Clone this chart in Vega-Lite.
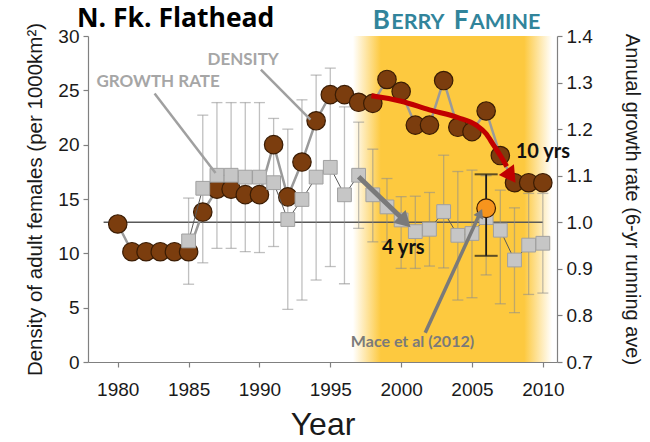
{
  "$schema": "https://vega.github.io/schema/vega-lite/v6.json",
  "width": 469,
  "height": 326,
  "autosize": {"type": "none"},
  "padding": {"left": 88, "top": 36, "right": 93, "bottom": 80},
  "background": "white",
  "config": {
    "view": {"stroke": null},
    "axis": {"grid": false, "labelFont": "Liberation Sans", "titleFont": "Liberation Sans", "labelFontSize": 19, "titleFontSize": 20, "titleFontWeight": "normal", "labelColor": "#1a1a1a", "titleColor": "#1a1a1a", "domainColor": "#808080", "tickColor": "#808080", "tickSize": 5, "domainWidth": 1.2, "tickWidth": 1.2}
  },
  "title": {"text": "N. Fk. Flathead", "anchor": "start", "frame": "group", "dx": -11, "dy": 30, "offset": 6, "font": "Open Sans", "fontSize": 26.5, "fontWeight": "bold", "color": "#000000"},
  "datasets": {
    "density": [
      {"year": 1980, "d": 12.7}, {"year": 1981, "d": 10.15}, {"year": 1982, "d": 10.15}, {"year": 1983, "d": 10.15}, {"year": 1984, "d": 10.15}, {"year": 1985, "d": 10.15},
      {"year": 1986, "d": 13.8}, {"year": 1987, "d": 15.9}, {"year": 1988, "d": 15.9}, {"year": 1989, "d": 15.4}, {"year": 1990, "d": 15.4},
      {"year": 1991, "d": 20.0}, {"year": 1992, "d": 15.2}, {"year": 1993, "d": 18.4}, {"year": 1994, "d": 22.2}, {"year": 1995, "d": 24.6},
      {"year": 1996, "d": 24.6}, {"year": 1997, "d": 23.9}, {"year": 1998, "d": 23.8}, {"year": 1999, "d": 26.0}, {"year": 2000, "d": 24.9},
      {"year": 2001, "d": 21.8}, {"year": 2002, "d": 21.8}, {"year": 2003, "d": 25.9}, {"year": 2004, "d": 21.6}, {"year": 2005, "d": 21.2},
      {"year": 2006, "d": 23.1}, {"year": 2007, "d": 19.0}, {"year": 2008, "d": 16.5}, {"year": 2009, "d": 16.5}, {"year": 2010, "d": 16.5}
    ],
    "growth": [
      {"year": 1985, "g": 0.960, "lo": 0.867, "hi": 1.052},
      {"year": 1986, "g": 1.073, "lo": 0.913, "hi": 1.230},
      {"year": 1987, "g": 1.101, "lo": 0.944, "hi": 1.257},
      {"year": 1988, "g": 1.101, "lo": 0.944, "hi": 1.257},
      {"year": 1989, "g": 1.097, "lo": 0.937, "hi": 1.257},
      {"year": 1990, "g": 1.097, "lo": 0.935, "hi": 1.257},
      {"year": 1991, "g": 1.085, "lo": 0.948, "hi": 1.223},
      {"year": 1992, "g": 1.006, "lo": 0.813, "hi": 1.200},
      {"year": 1993, "g": 1.049, "lo": 0.833, "hi": 1.263},
      {"year": 1994, "g": 1.097, "lo": 0.876, "hi": 1.316},
      {"year": 1995, "g": 1.118, "lo": 0.905, "hi": 1.331},
      {"year": 1996, "g": 1.059, "lo": 0.868, "hi": 1.248},
      {"year": 1997, "g": 1.101, "lo": 0.987, "hi": 1.215},
      {"year": 1998, "g": 1.059, "lo": 0.958, "hi": 1.157},
      {"year": 1999, "g": 1.033, "lo": 0.958, "hi": 1.094},
      {"year": 2000, "g": 1.005, "lo": 0.901, "hi": 1.055},
      {"year": 2001, "g": 0.980, "lo": 0.901, "hi": 1.056},
      {"year": 2002, "g": 0.985, "lo": 0.906, "hi": 1.064},
      {"year": 2003, "g": 1.023, "lo": 0.902, "hi": 1.144},
      {"year": 2004, "g": 0.972, "lo": 0.833, "hi": 1.109},
      {"year": 2005, "g": 0.976, "lo": 0.838, "hi": 1.112},
      {"year": 2006, "g": 1.010, "lo": 0.887, "hi": 1.100},
      {"year": 2007, "g": 0.983, "lo": 0.825, "hi": 1.069},
      {"year": 2008, "g": 0.919, "lo": 0.806, "hi": 1.031},
      {"year": 2009, "g": 0.951, "lo": 0.845, "hi": 1.062},
      {"year": 2010, "g": 0.955, "lo": 0.848, "hi": 1.062}
    ],
    "mace": [{"year": 2006, "g": 1.03, "lo": 0.928, "hi": 1.103}],
    "redpath": [
      {"year": 1997.9, "d": 24.5}, {"year": 2000.0, "d": 24.0}, {"year": 2002.0, "d": 23.2}, {"year": 2004.0, "d": 22.5},
      {"year": 2005.3, "d": 21.8}, {"year": 2006.0, "d": 21.0}, {"year": 2006.5, "d": 20.0}, {"year": 2007.0, "d": 19.0}, {"year": 2007.45, "d": 18.0}
    ],
    "pointers": [
      {"year": 1982.6, "d": 24.7, "seg": "growth"}, {"year": 1986.9, "d": 17.4, "seg": "growth"},
      {"year": 1990.1, "d": 26.9, "seg": "density"}, {"year": 1993.6, "d": 22.3, "seg": "density"}
    ]
  },
  "encoding": {
    "x": {"field": "year", "type": "quantitative", "scale": {"domain": [1977.9, 2011], "nice": false, "zero": false},
      "axis": {"values": [1980, 1985, 1990, 1995, 2000, 2005, 2010], "format": "d", "title": "Year", "titleFontSize": 32, "titlePadding": 10, "labelPadding": 13}}
  },
  "layer": [
    {
      "data": {"values": [{"year": 1996.6, "year2": 2010.65}]},
      "mark": {"type": "rect", "color": {"gradient": "linear", "x1": 0, "x2": 1, "y1": 0, "y2": 0, "stops": [{"offset": 0, "color": "#ffffff"}, {"offset": 0.14, "color": "#fdc93f"}, {"offset": 0.86, "color": "#fdc93f"}, {"offset": 1, "color": "#ffffff"}]}},
      "encoding": {"x2": {"field": "year2"}}
    },
    {
      "data": {"values": [{"year": 1979, "year2": 2010, "g": 1}]},
      "mark": {"type": "rule", "color": "#595959", "strokeWidth": 1.5},
      "encoding": {
        "x2": {"field": "year2"},
        "y": {"field": "g", "type": "quantitative", "scale": {"domain": [0.7, 1.4], "nice": false, "zero": false},
          "axis": {"orient": "right", "values": [0.7, 0.8, 0.9, 1.0, 1.1, 1.2, 1.3, 1.4], "format": ".1f", "title": "Annual growth rate (6-yr running ave)", "titlePadding": 29, "labelPadding": 4}}
      }
    },
    {
      "data": {"name": "growth"},
      "mark": {"type": "rule", "color": "#8c8c8c", "opacity": 0.55, "strokeWidth": 1.3},
      "encoding": {"y": {"field": "lo", "type": "quantitative", "scale": {"domain": [0.7, 1.4], "nice": false, "zero": false}, "axis": null}, "y2": {"field": "hi"}}
    },
    {
      "data": {"name": "growth"},
      "mark": {"type": "tick", "orient": "horizontal", "size": 11, "thickness": 1.3, "color": "#8c8c8c", "opacity": 0.55},
      "encoding": {"y": {"field": "lo", "type": "quantitative", "scale": {"domain": [0.7, 1.4], "nice": false, "zero": false}, "axis": null}}
    },
    {
      "data": {"name": "growth"},
      "mark": {"type": "tick", "orient": "horizontal", "size": 11, "thickness": 1.3, "color": "#8c8c8c", "opacity": 0.55},
      "encoding": {"y": {"field": "hi", "type": "quantitative", "scale": {"domain": [0.7, 1.4], "nice": false, "zero": false}, "axis": null}}
    },
    {
      "data": {"name": "density"},
      "mark": {"type": "line", "color": "#9a9a9a", "strokeWidth": 2.5},
      "encoding": {"y": {"field": "d", "type": "quantitative", "scale": {"domain": [0, 30], "nice": false, "zero": false},
        "axis": {"orient": "left", "values": [0, 5, 10, 15, 20, 25, 30], "title": "Density of adult females (per 1000km²)", "titleFontSize": 20.5, "titlePadding": 12, "labelPadding": 4}}}
    },
    {
      "data": {"name": "density"},
      "mark": {"type": "point", "filled": true, "size": 340, "color": "#7b3d0e", "stroke": "#3a1c04", "strokeWidth": 1.2, "opacity": 1},
      "encoding": {"y": {"field": "d", "type": "quantitative", "scale": {"domain": [0, 30], "nice": false, "zero": false}, "axis": null}}
    },
    {
      "data": {"name": "growth"},
      "mark": {"type": "line", "color": "#595959", "strokeWidth": 1},
      "encoding": {"y": {"field": "g", "type": "quantitative", "scale": {"domain": [0.7, 1.4], "nice": false, "zero": false}, "axis": null}}
    },
    {
      "data": {"name": "growth"},
      "mark": {"type": "point", "shape": "square", "filled": true, "size": 190, "color": "#c6c6c6", "stroke": "#a0a0a0", "strokeWidth": 1, "opacity": 1},
      "encoding": {"y": {"field": "g", "type": "quantitative", "scale": {"domain": [0.7, 1.4], "nice": false, "zero": false}, "axis": null}}
    },
    {
      "data": {"name": "mace"},
      "mark": {"type": "rule", "color": "#1a1a1a", "strokeWidth": 1.8},
      "encoding": {"y": {"field": "lo", "type": "quantitative", "scale": {"domain": [0.7, 1.4], "nice": false, "zero": false}, "axis": null}, "y2": {"field": "hi"}}
    },
    {
      "data": {"name": "mace"},
      "mark": {"type": "tick", "orient": "horizontal", "size": 23, "thickness": 2, "color": "#1a1a1a"},
      "encoding": {"y": {"field": "lo", "type": "quantitative", "scale": {"domain": [0.7, 1.4], "nice": false, "zero": false}, "axis": null}}
    },
    {
      "data": {"name": "mace"},
      "mark": {"type": "tick", "orient": "horizontal", "size": 23, "thickness": 2, "color": "#1a1a1a"},
      "encoding": {"y": {"field": "hi", "type": "quantitative", "scale": {"domain": [0.7, 1.4], "nice": false, "zero": false}, "axis": null}}
    },
    {
      "data": {"name": "mace"},
      "mark": {"type": "point", "filled": true, "size": 350, "color": "#f7941d", "stroke": "#3a1c04", "strokeWidth": 1.2, "opacity": 1},
      "encoding": {"y": {"field": "g", "type": "quantitative", "scale": {"domain": [0.7, 1.4], "nice": false, "zero": false}, "axis": null}}
    },
    {
      "data": {"name": "pointers"},
      "mark": {"type": "line", "color": "#a0a0a0", "strokeWidth": 2.5},
      "encoding": {"y": {"field": "d", "type": "quantitative", "scale": {"domain": [0, 30], "nice": false, "zero": false}, "axis": null}, "detail": {"field": "seg"}}
    },
    {
      "data": {"values": [{"year": 1997.0, "d": 17.05}, {"year": 2000.0, "d": 13.3}]},
      "mark": {"type": "line", "color": "#7a7a7a", "strokeWidth": 5},
      "encoding": {"y": {"field": "d", "type": "quantitative", "scale": {"domain": [0, 30], "nice": false, "zero": false}, "axis": null}}
    },
    {
      "data": {"values": [{"year": 2000.27, "d": 12.9}]},
      "mark": {"type": "point", "shape": "triangle-up", "filled": true, "size": 320, "angle": 134, "color": "#7a7a7a", "opacity": 1},
      "encoding": {"y": {"field": "d", "type": "quantitative", "scale": {"domain": [0, 30], "nice": false, "zero": false}, "axis": null}}
    },
    {
      "data": {"values": [{"year": 2001.7, "d": 2.7}, {"year": 2005.5, "d": 13.5}]},
      "mark": {"type": "line", "color": "#7a7a7a", "strokeWidth": 3.5},
      "encoding": {"y": {"field": "d", "type": "quantitative", "scale": {"domain": [0, 30], "nice": false, "zero": false}, "axis": null}}
    },
    {
      "data": {"values": [{"year": 2005.58, "d": 13.7}]},
      "mark": {"type": "point", "shape": "triangle-up", "filled": true, "size": 110, "angle": 25, "color": "#7a7a7a", "opacity": 1},
      "encoding": {"y": {"field": "d", "type": "quantitative", "scale": {"domain": [0, 30], "nice": false, "zero": false}, "axis": null}}
    },
    {
      "data": {"name": "redpath"},
      "mark": {"type": "line", "color": "#c00000", "strokeWidth": 5, "interpolate": "monotone"},
      "encoding": {"y": {"field": "d", "type": "quantitative", "scale": {"domain": [0, 30], "nice": false, "zero": false}, "axis": null}}
    },
    {
      "data": {"values": [{"year": 2007.75, "d": 17.1}]},
      "mark": {"type": "point", "shape": "triangle-up", "filled": true, "size": 340, "angle": 145, "color": "#c00000", "opacity": 1},
      "encoding": {"y": {"field": "d", "type": "quantitative", "scale": {"domain": [0, 30], "nice": false, "zero": false}, "axis": null}}
    },
    {
      "data": {"values": [{"year": 1982.85, "d": 25.8, "label": "GROWTH RATE"}, {"year": 1988.85, "d": 27.8, "label": "DENSITY"}]},
      "mark": {"type": "text", "font": "Lato", "fontWeight": "bold", "fontSize": 17, "color": "#a6a6a6", "align": "center", "baseline": "middle"},
      "encoding": {"y": {"field": "d", "type": "quantitative", "scale": {"domain": [0, 30], "nice": false, "zero": false}, "axis": null}, "text": {"field": "label"}}
    },
    {
      "data": {"values": [{"year": 2000.15, "d": 10.46, "label": "4 yrs"}, {"year": 2010.0, "d": 19.35, "label": "10 yrs"}]},
      "mark": {"type": "text", "font": "Lato", "fontWeight": "bold", "fontSize": 20, "color": "#111111", "align": "center", "baseline": "middle"},
      "encoding": {"y": {"field": "d", "type": "quantitative", "scale": {"domain": [0, 30], "nice": false, "zero": false}, "axis": null}, "text": {"field": "label"}}
    },
    {
      "data": {"values": [{"year": 2000.8, "d": 1.87, "label": "Mace et al (2012)"}]},
      "mark": {"type": "text", "font": "Lato", "fontWeight": "bold", "fontSize": 16, "color": "#7a7a7a", "align": "center", "baseline": "middle"},
      "encoding": {"y": {"field": "d", "type": "quantitative", "scale": {"domain": [0, 30], "nice": false, "zero": false}, "axis": null}, "text": {"field": "label"}}
    },
    {
      "data": {"values": [{"year": 1998.0, "d": 30.6, "label": "B"}]},
      "mark": {"type": "text", "font": "Lato", "fontWeight": "bold", "fontSize": 26, "color": "#31849b", "align": "left", "baseline": "alphabetic", "dx": 0},
      "encoding": {"y": {"field": "d", "type": "quantitative", "scale": {"domain": [0, 30], "nice": false, "zero": false}, "axis": null}, "text": {"field": "label"}}
    },
    {
      "data": {"values": [{"year": 1998.0, "d": 30.6, "label": "ERRY"}]},
      "mark": {"type": "text", "font": "Lato", "fontWeight": "bold", "fontSize": 21.5, "color": "#31849b", "align": "left", "baseline": "alphabetic", "dx": 18.5},
      "encoding": {"y": {"field": "d", "type": "quantitative", "scale": {"domain": [0, 30], "nice": false, "zero": false}, "axis": null}, "text": {"field": "label"}}
    },
    {
      "data": {"values": [{"year": 1998.0, "d": 30.6, "label": "F"}]},
      "mark": {"type": "text", "font": "Lato", "fontWeight": "bold", "fontSize": 26, "color": "#31849b", "align": "left", "baseline": "alphabetic", "dx": 81},
      "encoding": {"y": {"field": "d", "type": "quantitative", "scale": {"domain": [0, 30], "nice": false, "zero": false}, "axis": null}, "text": {"field": "label"}}
    },
    {
      "data": {"values": [{"year": 1998.0, "d": 30.6, "label": "AMINE"}]},
      "mark": {"type": "text", "font": "Lato", "fontWeight": "bold", "fontSize": 21.5, "color": "#31849b", "align": "left", "baseline": "alphabetic", "dx": 97},
      "encoding": {"y": {"field": "d", "type": "quantitative", "scale": {"domain": [0, 30], "nice": false, "zero": false}, "axis": null}, "text": {"field": "label"}}
    }
  ],
  "resolve": {"scale": {"y": "independent"}}
}
